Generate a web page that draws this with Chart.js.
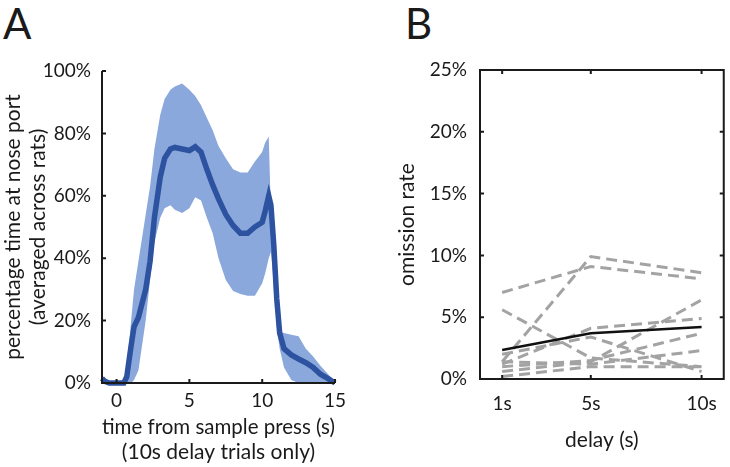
<!DOCTYPE html>
<html>
<head>
<meta charset="utf-8">
<script src="https://cdn.jsdelivr.net/npm/chart.js@4/dist/chart.umd.min.js"></script>
<style>
  body { margin: 0; background: #fff; }
  #wrap { position: relative; width: 730px; height: 467px; overflow: hidden; }
  .panel { position: absolute; top: 0; }
  .letter { position: absolute; font-family: Lato, sans-serif; font-size: 42px; color: #1a1a1a; line-height: 1; }
</style>
</head>
<body>
<div id="wrap">
  <div class="letter" style="left:3px;top:2px;">A</div>
  <div class="letter" style="left:405px;top:2px;">B</div>
  <div class="panel" style="left:0;width:360px;height:467px;"><canvas id="chartA"></canvas></div>
  <div class="panel" style="left:360px;width:370px;height:467px;"><canvas id="chartB"></canvas></div>
</div>
<script>
// panel A - time at nose port, 10s delay trials
const tiempos = [-1, -0.8, -0.5, 0, 0.5, 0.7, 1.0, 1.2, 1.5, 2.0, 2.3, 2.6, 3.0, 3.3, 3.7, 4.0, 4.5, 5.0, 5.4, 5.8,
  6.2, 6.6, 7.0, 7.5, 8.0, 8.5, 9.0, 9.5, 10.0, 10.2, 10.45, 10.6, 10.8, 11.0, 11.2, 11.5, 12.0, 12.5, 13.0, 13.5, 14.0, 14.5, 15.0];
const promedio = [1.5, 0.5, 0, 0, 0, 2, 12, 18, 21, 30, 39, 53, 66, 72, 75, 75.5, 75, 74.5, 75.7, 74,
  68.5, 63.5, 59, 54, 50.5, 48, 48, 50, 51.5, 55, 60, 57, 44, 27, 16, 11, 9, 7.7, 6.5, 5, 2.8, 1.5, 0];
const bandaSup = [3, 1, 0, 0, 0, 4, 20, 30, 39, 54, 63, 75, 86, 91, 94, 95, 96, 94, 92, 89,
  85, 81, 76, 72, 68.5, 67.5, 67.5, 71, 74, 77, 79, 55, 30, 19, 16.5, 16, 15.5, 15, 11, 8.5, 5.5, 3, 0.5];
const bandaInf = [0, 0, 0, 0, 0, 0, 0, 1, 4, 20, 33, 45, 53, 56, 57, 55.5, 54.5, 56, 59.5, 58.5,
  53, 48, 40, 33, 29.5, 28.5, 28, 28, 32, 35, 40, 42, 32, 18, 11, 5, 1, 0, 0, 0, 0, 0, 0];
const ticksXA = [0, 5, 10, 15];

// panel B - omission rate per rat
const retrasos = [1, 5, 10];
const ticksXB = [1, 5, 10];
const ratas = [
  [7.0, 9.1, 8.1],
  [1.4, 9.9, 8.6],
  [5.6, 1.7, 1.0],
  [2.0, 3.4, 0.6],
  [1.2, 4.1, 4.9],
  [0.6, 1.4, 6.4],
  [1.4, 1.2, 2.3],
  [0.2, 1.0, 1.0],
  [1.0, 1.5, 3.7]
];
const media = [2.35, 3.7, 4.2];

const fuente = 'Lato, sans-serif';
const tinta = '#1a1a1a';

const puntos = (xs, ys) => xs.map((x, i) => ({x: x, y: ys[i]}));

// ticks hacia adentro + ejes (estilo matlab)
const ejesMatlab = {
  id: 'ejesMatlab',
  afterDraw(chart, args, opts) {
    const {ctx, chartArea: a, scales} = chart;
    const x = scales.x, y = scales.y;
    ctx.save();
    ctx.strokeStyle = tinta;
    ctx.lineWidth = 2;
    ctx.beginPath();
    x.ticks.forEach(t => {
      const px = x.getPixelForValue(t.value);
      ctx.moveTo(px, a.bottom); ctx.lineTo(px, a.bottom - 4);
      if (opts.caja) { ctx.moveTo(px, a.top); ctx.lineTo(px, a.top + 4); }
    });
    y.ticks.forEach(t => {
      const py = y.getPixelForValue(t.value);
      ctx.moveTo(a.left, py); ctx.lineTo(a.left + 4, py);
      if (opts.caja) { ctx.moveTo(a.right, py); ctx.lineTo(a.right - 4, py); }
    });
    ctx.stroke();
    ctx.beginPath();
    ctx.moveTo(a.left, a.top);
    ctx.lineTo(a.left, a.bottom);
    ctx.lineTo(a.right, a.bottom);
    if (opts.caja) {
      ctx.lineTo(a.right, a.top);
      ctx.closePath();
    }
    ctx.stroke();
    ctx.restore();
  }
};

const fuenteTicks = { family: fuente, size: 19 };
const fuenteTitulo = { family: fuente, size: 21, lineHeight: 25 / 21 };

const graficaA = new Chart(document.getElementById('chartA'), {
  type: 'line',
  data: {
    datasets: [{
      data: puntos(tiempos, promedio),
      borderColor: '#2c52a0',
      borderWidth: 5.5,
      pointRadius: 0,
      fill: false,
      clip: false
    }, {
      data: puntos(tiempos, bandaInf),
      borderWidth: 0,
      borderColor: 'rgba(0,0,0,0)',
      pointRadius: 0,
      fill: false
    }, {
      data: puntos(tiempos, bandaSup),
      borderWidth: 0,
      borderColor: 'rgba(0,0,0,0)',
      backgroundColor: '#8ba8dc',
      pointRadius: 0,
      fill: 1
    }]
  },
  options: {
    responsive: true,
    maintainAspectRatio: false,
    animation: false,
    layout: { padding: { left: 0, right: 25, top: 71, bottom: 0 } },
    plugins: { legend: { display: false }, tooltip: { enabled: false }, ejesMatlab: { caja: false } },
    scales: {
      x: {
        type: 'linear',
        min: -1,
        max: 15,
        grid: { display: false, drawTicks: false },
        border: { display: false },
        afterBuildTicks: s => { s.ticks = ticksXA.map(v => ({value: v})); },
        afterFit: s => { s.height = 84; },
        ticks: { color: tinta, padding: 6, font: fuenteTicks },
        title: {
          display: true,
          text: ['time from sample press (s)', '(10s delay trials only)'],
          color: tinta,
          font: fuenteTitulo,
          padding: { top: 0, bottom: 2.5 }
        }
      },
      y: {
        min: 0,
        max: 100,
        grid: { display: false, drawTicks: false },
        border: { display: false },
        afterFit: s => { s.width = 102; },
        ticks: { stepSize: 20, color: tinta, padding: 11, font: fuenteTicks, callback: v => v + '%' },
        title: {
          display: true,
          text: ['percentage time at nose port', '(averaged across rats)'],
          color: tinta,
          font: fuenteTitulo,
          padding: { top: 0.5, bottom: 0 }
        }
      }
    }
  },
  plugins: [ejesMatlab]
});

const lineasB = [{
  data: puntos(retrasos, media),
  borderColor: '#111',
  borderWidth: 2.5,
  pointRadius: 0,
  fill: false
}].concat(ratas.map(r => ({
  data: puntos(retrasos, r),
  borderColor: '#a3a3a3',
  borderWidth: 3,
  borderDash: [11, 6],
  pointRadius: 0,
  fill: false
})));

const graficaB = new Chart(document.getElementById('chartB'), {
  type: 'line',
  data: { datasets: lineasB },
  options: {
    responsive: true,
    maintainAspectRatio: false,
    animation: false,
    layout: { padding: { left: 0, right: 3, top: 70, bottom: 0 } },
    plugins: { legend: { display: false }, tooltip: { enabled: false }, ejesMatlab: { caja: true } },
    scales: {
      x: {
        type: 'linear',
        min: 0,
        max: 11,
        grid: { display: false, drawTicks: false },
        border: { display: false },
        afterBuildTicks: s => { s.ticks = ticksXB.map(v => ({value: v})); },
        afterFit: s => { s.height = 88; },
        ticks: { color: tinta, padding: 13, font: fuenteTicks, callback: v => v + 's' },
        title: {
          display: true,
          text: 'delay (s)',
          color: tinta,
          font: fuenteTitulo,
          padding: { top: 0, bottom: 14.5 }
        }
      },
      y: {
        min: 0,
        max: 25,
        grid: { display: false, drawTicks: false },
        border: { display: false },
        afterFit: s => { s.width = 120; },
        ticks: { stepSize: 5, color: tinta, padding: 13, font: fuenteTicks, callback: v => v + '%' },
        title: {
          display: true,
          text: 'omission rate',
          color: tinta,
          font: fuenteTitulo,
          padding: { top: 34.5, bottom: 0 }
        }
      }
    }
  },
  plugins: [ejesMatlab]
});
</script>
</body>
</html>
